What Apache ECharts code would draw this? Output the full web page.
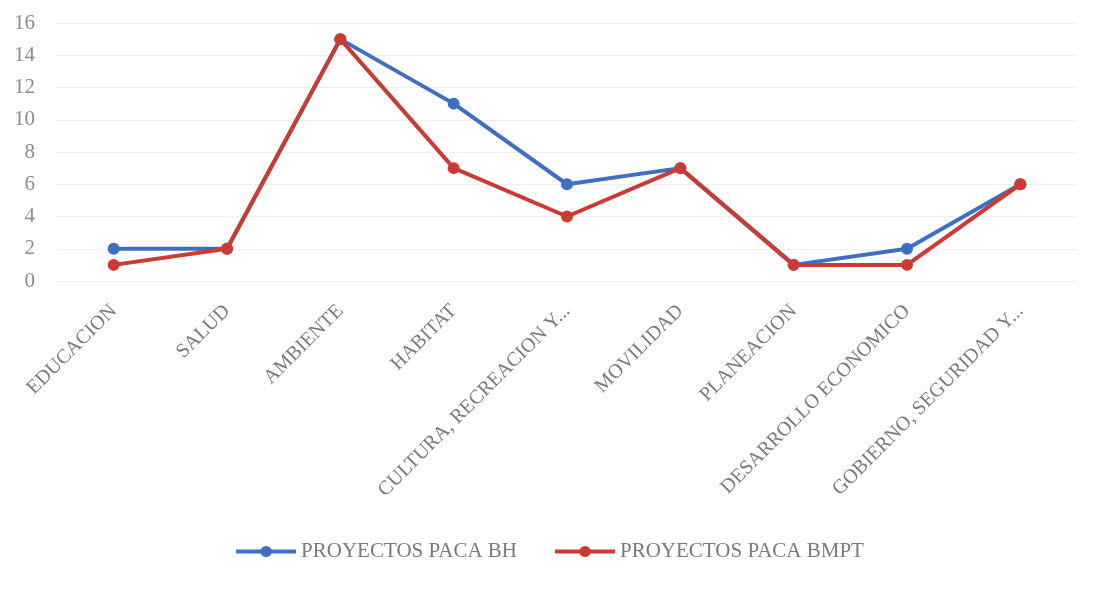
<!DOCTYPE html>
<html>
<head>
<meta charset="utf-8">
<script src="https://cdn.jsdelivr.net/npm/echarts@6/dist/echarts.min.js"></script>
<style>
html,body{margin:0;padding:0;background:#fff;}
#chart{width:1098px;height:597px;}
</style>
</head>
<body>
<div id="chart"></div>
<script>
const categories = ["EDUCACION","SALUD","AMBIENTE","HABITAT","CULTURA, RECREACION Y...","MOVILIDAD","PLANEACION","DESARROLLO ECONOMICO","GOBIERNO, SEGURIDAD Y..."];
const seriesBH = [2, 2, 15, 11, 6, 7, 1, 2, 6];
const seriesBMPT = [1, 2, 15, 7, 4, 7, 1, 1, 6];
const seriesNames = ["PROYECTOS PACA BH", "PROYECTOS PACA BMPT"];
const yTicks = {min: 0, max: 16, interval: 2};

const chart = echarts.init(document.getElementById('chart'));
const font = "'Liberation Serif', 'DejaVu Serif', serif";
chart.setOption({
  animation: false,
  backgroundColor: '#ffffff',
  grid: {left: 57, right: 21, top: 23, bottom: 316},
  legend: {
    bottom: 30,
    left: 'center',
    itemWidth: 60,
    itemHeight: 14,
    itemGap: 36,
    lineStyle: {width: 4},
    textStyle: {fontFamily: font, fontSize: 21, color: '#7a7a7a'},
    data: seriesNames
  },
  xAxis: {
    type: 'category',
    data: categories,
    boundaryGap: true,
    axisLine: {show: true, lineStyle: {color: '#eeeeee'}},
    axisTick: {show: false},
    axisLabel: {rotate: 45, interval: 0, margin: 27, fontFamily: font, fontSize: 20, color: '#7a7a7a'}
  },
  yAxis: {
    type: 'value',
    min: yTicks.min, max: yTicks.max, interval: yTicks.interval,
    axisLine: {show: false},
    axisTick: {show: false},
    splitLine: {lineStyle: {color: '#efefef', width: 1}},
    axisLabel: {margin: 22, fontFamily: font, fontSize: 21, color: '#8c8c8c'}
  },
  series: [
    {
      name: seriesNames[0], type: 'line', data: seriesBH,
      symbol: 'circle', symbolSize: 12,
      lineStyle: {width: 4, color: '#3e6fc2'},
      itemStyle: {color: '#3e6fc2'}
    },
    {
      name: seriesNames[1], type: 'line', data: seriesBMPT,
      symbol: 'circle', symbolSize: 12,
      lineStyle: {width: 4, color: '#cc3a32'},
      itemStyle: {color: '#cc3a32'}
    }
  ]
});
</script>
</body>
</html>
